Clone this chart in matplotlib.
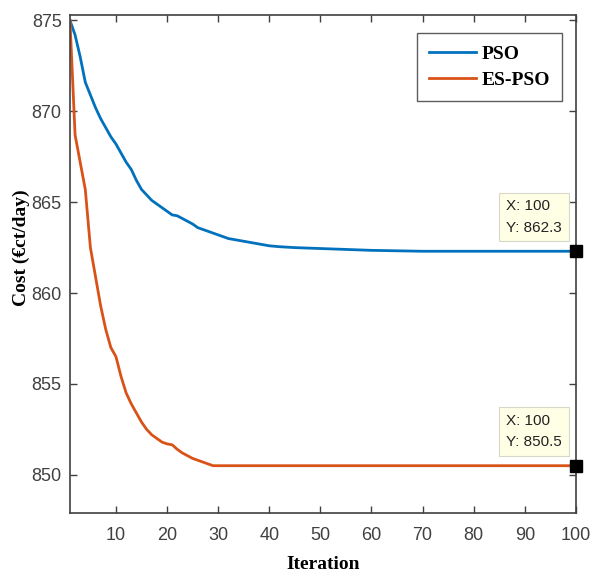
import matplotlib
matplotlib.use('Agg')
import matplotlib.pyplot as plt

# PSO convergence
pso_x = [1, 2, 3, 4, 5, 6, 7, 8, 9, 10, 11, 12, 13, 14, 15, 16, 17, 18, 19, 20,
         21, 22, 23, 24, 25, 26, 27, 28, 29, 30, 32, 34, 36, 38, 40, 42, 45, 50,
         55, 60, 70, 80, 90, 100]
pso_y = [875.0, 874.2, 873.0, 871.6, 870.9, 870.2, 869.6, 869.1, 868.6, 868.2,
         867.7, 867.2, 866.8, 866.2, 865.7, 865.4, 865.1, 864.9, 864.7, 864.5,
         864.3, 864.25, 864.1, 863.95, 863.8, 863.6, 863.5, 863.4, 863.3, 863.2,
         863.0, 862.9, 862.8, 862.7, 862.6, 862.55, 862.5, 862.45, 862.4, 862.35,
         862.3, 862.3, 862.3, 862.3]

# ES-PSO convergence
es_x = [1, 2, 3, 4, 5, 6, 7, 8, 9, 10, 11, 12, 13, 14, 15, 16, 17, 18, 19, 20,
        21, 22, 23, 24, 25, 26, 27, 28, 29, 30, 40, 60, 80, 100]
es_y = [875.0, 868.7, 867.2, 865.7, 862.5, 860.9, 859.3, 858.0, 857.0, 856.5,
        855.4, 854.5, 853.9, 853.4, 852.9, 852.5, 852.2, 852.0, 851.8, 851.7,
        851.65, 851.4, 851.2, 851.05, 850.9, 850.8, 850.7, 850.6, 850.5, 850.5,
        850.5, 850.5, 850.5, 850.5]

x_ticks = [10, 20, 30, 40, 50, 60, 70, 80, 90, 100]
y_ticks = [850, 855, 860, 865, 870, 875]

tick_font = ['Liberation Sans Narrow', 'Liberation Sans', 'DejaVu Sans']
label_font = ['Liberation Serif', 'DejaVu Serif']

fig = plt.figure(figsize=(5.98, 5.77), dpi=100)
ax = fig.add_axes([0.117, 0.111, 0.846, 0.863])

ax.plot(pso_x, pso_y, color='#0072BD', lw=2.0, label='PSO')
ax.plot(es_x, es_y, color='#D95319', lw=2.0, label='ES-PSO')

ax.set_xlim(1, 100)
ax.set_ylim(847.9, 875.3)
ax.set_xticks(x_ticks)
ax.set_yticks(y_ticks)
ax.tick_params(direction='in', top=True, right=True, length=5, width=1,
               colors='#404040', labelsize=13)
ax.tick_params(axis='x', pad=10)
ax.tick_params(axis='y', pad=6)
for lab in ax.get_xticklabels() + ax.get_yticklabels():
    lab.set_family(tick_font)
for s in ax.spines.values():
    s.set_color('#404040')
    s.set_linewidth(1.2)

ax.set_xlabel('Iteration', family=label_font, fontweight='bold', fontsize=14, labelpad=9)
ax.set_ylabel('Cost (€ct/day)', family=label_font, fontweight='bold', fontsize=14)
ax.yaxis.set_label_coords(-0.079, 0.532)

leg = ax.legend(loc='upper right', bbox_to_anchor=(0.972, 0.963), borderaxespad=0,
                frameon=True, fancybox=False, handlelength=2.4, handletextpad=0.3,
                borderpad=0.6, labelspacing=0.45,
                prop={'family': label_font, 'weight': 'bold', 'size': 14})
leg.get_frame().set_edgecolor('#333333')
leg.get_frame().set_linewidth(1.0)

# data tips at the final iteration
for yv in [pso_y[-1], es_y[-1]]:
    ax.plot([pso_x[-1]], [yv], marker='s', ms=8, color='black', clip_on=False, zorder=5)
    ax.annotate('X: 100\nY: %.1f' % yv, xy=(pso_x[-1], yv), xytext=(-10, 12),
                textcoords='offset points', ha='right', va='bottom',
                multialignment='left', fontsize=11,
                family=tick_font, color='#222222', linespacing=1.65,
                bbox=dict(boxstyle='square,pad=0.45', fc='#FFFFE6', ec='#D8D8C8', lw=0.8))

fig.savefig('out.png', dpi=100)
